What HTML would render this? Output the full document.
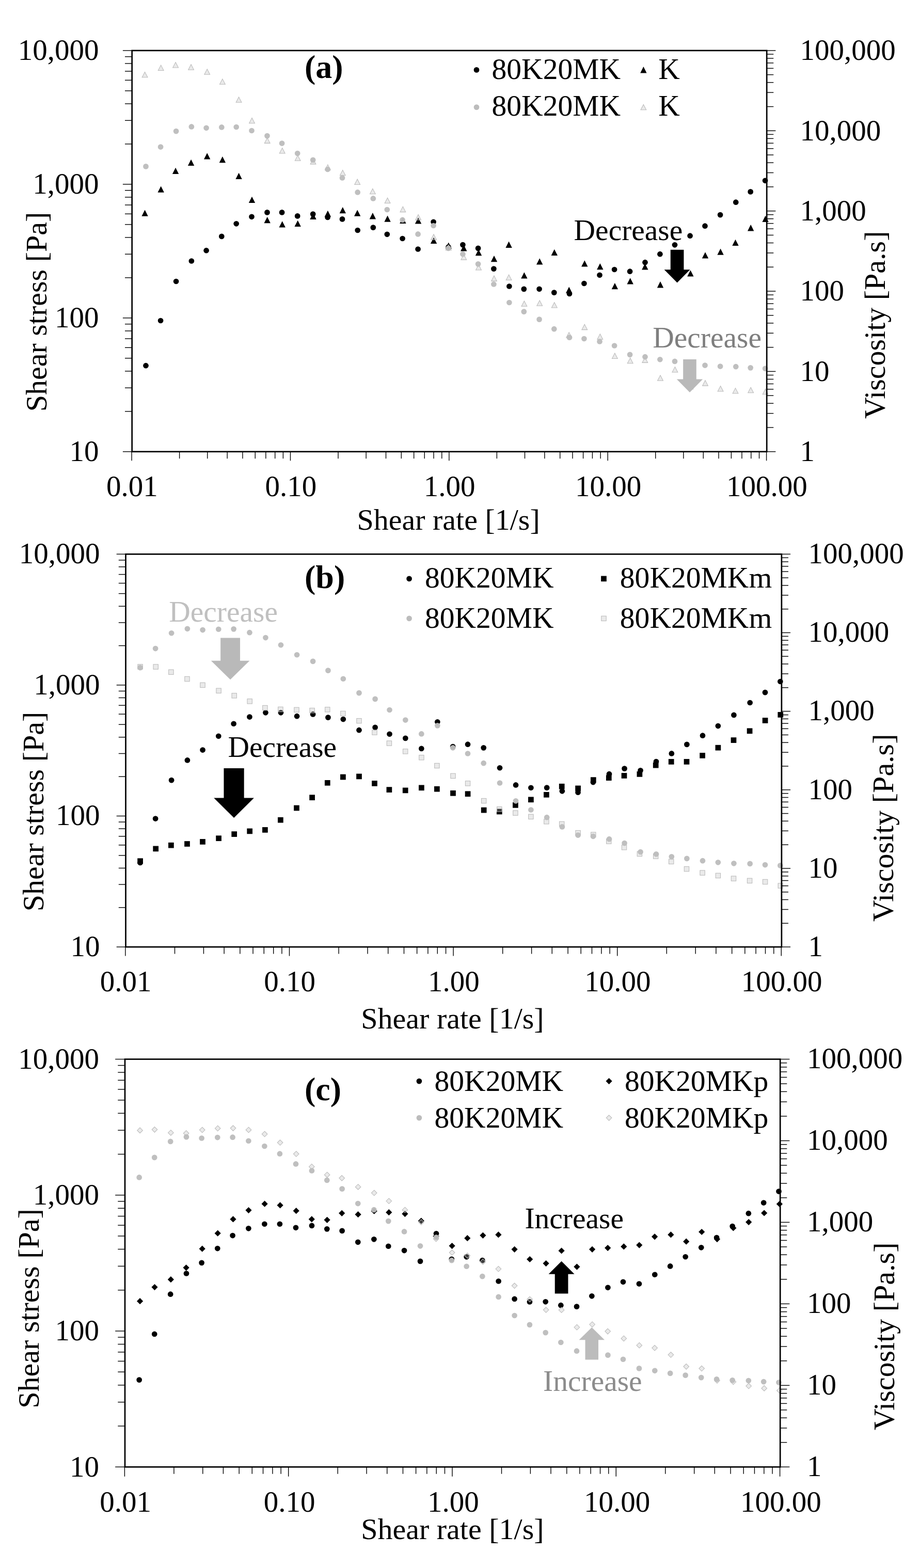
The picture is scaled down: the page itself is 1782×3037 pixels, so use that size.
<!DOCTYPE html>
<html lang="en"><head><meta charset="utf-8"><title>Shear stress and viscosity versus shear rate</title>
<style>html,body{margin:0;padding:0;background:#fff}body{width:1782px;height:3037px;overflow:hidden}svg{display:block}text{font-family:"Liberation Serif","Times New Roman",Times,serif}</style>
</head><body>
<svg width="1782" height="3037" viewBox="0 0 1782 3037" font-family="Liberation Serif, Times New Roman, serif" font-size="57">
<rect width="1782" height="3037" fill="#fff"/>
<g id="chart-a">
<g fill="#000">
<circle cx="282.5" cy="708.2" r="5.35"/>
<circle cx="311.1" cy="621" r="5.35"/>
<circle cx="341.1" cy="545" r="5.35"/>
<circle cx="370.9" cy="505.5" r="5.35"/>
<circle cx="399.6" cy="485.2" r="5.35"/>
<circle cx="429.3" cy="457.9" r="5.35"/>
<circle cx="457.7" cy="433.3" r="5.35"/>
<circle cx="487.5" cy="419.8" r="5.35"/>
<circle cx="517.5" cy="411.4" r="5.35"/>
<circle cx="546.1" cy="411.4" r="5.35"/>
<circle cx="576.2" cy="418.4" r="5.35"/>
<circle cx="606.2" cy="414.6" r="5.35"/>
<circle cx="634.6" cy="420.9" r="5.35"/>
<circle cx="663" cy="424.4" r="5.35"/>
<circle cx="692.7" cy="446" r="5.35"/>
<circle cx="722.8" cy="440.6" r="5.35"/>
<circle cx="749.8" cy="453.8" r="5.35"/>
<circle cx="779.6" cy="462" r="5.35"/>
<circle cx="809.6" cy="482.5" r="5.35"/>
<circle cx="839.6" cy="429.8" r="5.35"/>
<circle cx="868.5" cy="478.6" r="5.35"/>
<circle cx="896.4" cy="474.1" r="5.35"/>
<circle cx="926.1" cy="480.9" r="5.35"/>
<circle cx="956.4" cy="520.6" r="5.35"/>
<circle cx="986.4" cy="554.5" r="5.35"/>
<circle cx="1014.8" cy="559.9" r="5.35"/>
<circle cx="1044.6" cy="559.8" r="5.35"/>
<circle cx="1073.3" cy="566.6" r="5.35"/>
<circle cx="1103" cy="569" r="5.35"/>
<circle cx="1131.4" cy="549" r="5.35"/>
<circle cx="1161.5" cy="532.8" r="5.35"/>
<circle cx="1190.1" cy="522" r="5.35"/>
<circle cx="1220.1" cy="525.7" r="5.35"/>
<circle cx="1249.5" cy="508.2" r="5.35"/>
<circle cx="1278.4" cy="492.2" r="5.35"/>
<circle cx="1307" cy="474.3" r="5.35"/>
<circle cx="1336.6" cy="456.7" r="5.35"/>
<circle cx="1365.5" cy="437.7" r="5.35"/>
<circle cx="1395.1" cy="416.1" r="5.35"/>
<circle cx="1425.3" cy="391.7" r="5.35"/>
<circle cx="1453.7" cy="371.4" r="5.35"/>
<circle cx="1482.1" cy="349.8" r="5.35"/>
</g>
<g fill="#000">
<polygon points="280.6,406.4 286.8,418.7 274.4,418.7"/>
<polygon points="311.7,360.5 317.9,372.8 305.5,372.8"/>
<polygon points="340.1,324.7 346.3,337 333.9,337"/>
<polygon points="370.1,308.7 376.3,321 363.9,321"/>
<polygon points="401.2,296.3 407.4,308.6 395,308.6"/>
<polygon points="430.9,303 437.1,315.3 424.7,315.3"/>
<polygon points="462.6,334.7 468.8,347 456.4,347"/>
<polygon points="488,380.7 494.2,393 481.8,393"/>
<polygon points="517.7,420 523.9,432.3 511.5,432.3"/>
<polygon points="546.7,428.3 552.9,440.6 540.5,440.6"/>
<polygon points="576.7,426.7 582.9,439 570.5,439"/>
<polygon points="606.5,412.7 612.7,425 600.3,425"/>
<polygon points="634.9,407.8 641.1,420.1 628.7,420.1"/>
<polygon points="663.8,401 670,413.3 657.6,413.3"/>
<polygon points="692.2,406.4 698.4,418.7 686,418.7"/>
<polygon points="721.9,412.1 728.1,424.4 715.7,424.4"/>
<polygon points="750.6,417.5 756.8,429.8 744.4,429.8"/>
<polygon points="780.4,420.8 786.6,433.1 774.2,433.1"/>
<polygon points="810.1,421.3 816.3,433.6 803.9,433.6"/>
<polygon points="840.1,459.7 846.3,472 833.9,472"/>
<polygon points="868.8,469.5 875,481.8 862.6,481.8"/>
<polygon points="898.3,474.1 904.5,486.4 892.1,486.4"/>
<polygon points="927,483 933.2,495.3 920.8,495.3"/>
<polygon points="957,494.9 963.2,507.2 950.8,507.2"/>
<polygon points="985.6,467.6 991.8,479.9 979.4,479.9"/>
<polygon points="1015.4,527.3 1021.6,539.6 1009.2,539.6"/>
<polygon points="1045.2,500.3 1051.4,512.6 1039,512.6"/>
<polygon points="1073.8,482.7 1080,495 1067.6,495"/>
<polygon points="1102.2,555.4 1108.4,567.7 1096,567.7"/>
<polygon points="1132.3,504.3 1138.5,516.6 1126.1,516.6"/>
<polygon points="1162.3,510 1168.5,522.3 1156.1,522.3"/>
<polygon points="1190.9,547.9 1197.1,560.2 1184.7,560.2"/>
<polygon points="1220.7,538.3 1226.9,550.6 1214.5,550.6"/>
<polygon points="1249.3,510.3 1255.5,522.6 1243.1,522.6"/>
<polygon points="1279,545.1 1285.2,557.4 1272.8,557.4"/>
<polygon points="1307.4,494.1 1313.6,506.4 1301.2,506.4"/>
<polygon points="1337.4,523.3 1343.6,535.6 1331.2,535.6"/>
<polygon points="1366,488.2 1372.2,500.5 1359.8,500.5"/>
<polygon points="1395.6,481.4 1401.8,493.7 1389.4,493.7"/>
<polygon points="1424.5,463.8 1430.7,476.1 1418.3,476.1"/>
<polygon points="1454.2,435.1 1460.4,447.4 1448,447.4"/>
<polygon points="1482.6,417.8 1488.8,430.1 1476.4,430.1"/>
</g>
<g fill="#bdbdbd" fill-opacity="0.32" stroke="#bababa" stroke-width="1.05">
<polygon points="280.6,139.44 286,149.84 275.2,149.84"/>
<polygon points="311.7,126.12 317.1,136.52 306.3,136.52"/>
<polygon points="340.1,120.6 345.5,131 334.7,131"/>
<polygon points="370.1,124.76 375.5,135.16 364.7,135.16"/>
<polygon points="401.2,133.84 406.6,144.24 395.8,144.24"/>
<polygon points="430.9,152.88 436.3,163.28 425.5,163.28"/>
<polygon points="462.6,187.92 468,198.32 457.2,198.32"/>
<polygon points="488,228.36 493.4,238.76 482.6,238.76"/>
<polygon points="517.7,266.95 523.1,277.35 512.3,277.35"/>
<polygon points="546.7,286.59 552.1,296.99 541.3,296.99"/>
<polygon points="576.7,300.8 582.1,311.2 571.3,311.2"/>
<polygon points="606.5,307.46 611.9,317.86 601.1,317.86"/>
<polygon points="634.9,318.88 640.3,329.28 629.5,329.28"/>
<polygon points="663.8,329.41 669.2,339.81 658.4,339.81"/>
<polygon points="692.2,347.01 697.6,357.41 686.8,357.41"/>
<polygon points="721.9,365.44 727.3,375.84 716.5,375.84"/>
<polygon points="750.6,383.19 756,393.59 745.2,393.59"/>
<polygon points="780.4,400.23 785.8,410.63 775,410.63"/>
<polygon points="810.1,415.54 815.5,425.94 804.7,425.94"/>
<polygon points="840.1,453.75 845.5,464.15 834.7,464.15"/>
<polygon points="868.8,474.14 874.2,484.54 863.4,484.54"/>
<polygon points="898.3,492.71 903.7,503.11 892.9,503.11"/>
<polygon points="927,512.56 932.4,522.96 921.6,522.96"/>
<polygon points="957,533.96 962.4,544.36 951.6,544.36"/>
<polygon points="985.6,532.04 991,542.44 980.2,542.44"/>
<polygon points="1015.4,582.92 1020.8,593.32 1010,593.32"/>
<polygon points="1045.2,581.79 1050.6,592.19 1039.8,592.19"/>
<polygon points="1073.8,585.69 1079.2,596.09 1068.4,596.09"/>
<polygon points="1102.2,643.66 1107.6,654.06 1096.8,654.06"/>
<polygon points="1132.3,628.22 1137.7,638.62 1126.9,638.62"/>
<polygon points="1162.3,646.8 1167.7,657.2 1156.9,657.2"/>
<polygon points="1190.9,684 1196.3,694.4 1185.5,694.4"/>
<polygon points="1220.7,693.31 1226.1,703.71 1215.3,703.71"/>
<polygon points="1249.3,691.96 1254.7,702.36 1243.9,702.36"/>
<polygon points="1279,726.86 1284.4,737.26 1273.6,737.26"/>
<polygon points="1307.4,710.61 1312.8,721.01 1302,721.01"/>
<polygon points="1337.4,743.3 1342.8,753.7 1332,753.7"/>
<polygon points="1366,736.7 1371.4,747.1 1360.6,747.1"/>
<polygon points="1395.6,747.58 1401,757.98 1390.2,757.98"/>
<polygon points="1424.5,751.63 1429.9,762.03 1419.1,762.03"/>
<polygon points="1454.2,750.32 1459.6,760.72 1448.8,760.72"/>
<polygon points="1482.6,753.4 1488,763.8 1477.2,763.8"/>
</g>
<g fill="#bcbcbc" fill-opacity="0.96">
<circle cx="282.5" cy="322.4" r="5.35"/>
<circle cx="311.1" cy="284.54" r="5.35"/>
<circle cx="341.1" cy="254.1" r="5.35"/>
<circle cx="370.9" cy="245.47" r="5.35"/>
<circle cx="399.6" cy="247.79" r="5.35"/>
<circle cx="429.3" cy="246.43" r="5.35"/>
<circle cx="457.7" cy="246.02" r="5.35"/>
<circle cx="487.5" cy="252.99" r="5.35"/>
<circle cx="517.5" cy="263.11" r="5.35"/>
<circle cx="546.1" cy="277.57" r="5.35"/>
<circle cx="576.2" cy="296.99" r="5.35"/>
<circle cx="606.2" cy="309.87" r="5.35"/>
<circle cx="634.6" cy="328.01" r="5.35"/>
<circle cx="663" cy="344.46" r="5.35"/>
<circle cx="692.7" cy="372.44" r="5.35"/>
<circle cx="722.8" cy="384.41" r="5.35"/>
<circle cx="749.8" cy="405.98" r="5.35"/>
<circle cx="779.6" cy="425.97" r="5.35"/>
<circle cx="809.6" cy="453.43" r="5.35"/>
<circle cx="839.6" cy="436.98" r="5.35"/>
<circle cx="868.5" cy="480.87" r="5.35"/>
<circle cx="896.4" cy="492.27" r="5.35"/>
<circle cx="926.1" cy="511.36" r="5.35"/>
<circle cx="956.4" cy="550.5" r="5.35"/>
<circle cx="986.4" cy="586.01" r="5.35"/>
<circle cx="1014.8" cy="603.6" r="5.35"/>
<circle cx="1044.6" cy="618.61" r="5.35"/>
<circle cx="1073.3" cy="637.19" r="5.35"/>
<circle cx="1103" cy="653.65" r="5.35"/>
<circle cx="1131.4" cy="656" r="5.35"/>
<circle cx="1161.5" cy="661.5" r="5.35"/>
<circle cx="1190.1" cy="669.48" r="5.35"/>
<circle cx="1220.1" cy="686.86" r="5.35"/>
<circle cx="1249.5" cy="691.22" r="5.35"/>
<circle cx="1278.4" cy="696.23" r="5.35"/>
<circle cx="1307" cy="699.95" r="5.35"/>
<circle cx="1336.6" cy="704.35" r="5.35"/>
<circle cx="1365.5" cy="707.56" r="5.35"/>
<circle cx="1395.1" cy="709.57" r="5.35"/>
<circle cx="1425.3" cy="710.19" r="5.35"/>
<circle cx="1453.7" cy="712.37" r="5.35"/>
<circle cx="1482.1" cy="713.76" r="5.35"/>
</g>
<g stroke="#000" stroke-width="1.4" fill="none">
<line x1="237.9" y1="97.9" x2="255.4" y2="97.9"/>
<line x1="242" y1="278.91" x2="255.4" y2="278.91"/>
<line x1="242" y1="233.31" x2="255.4" y2="233.31"/>
<line x1="242" y1="200.95" x2="255.4" y2="200.95"/>
<line x1="242" y1="175.86" x2="255.4" y2="175.86"/>
<line x1="242" y1="155.35" x2="255.4" y2="155.35"/>
<line x1="242" y1="138.01" x2="255.4" y2="138.01"/>
<line x1="242" y1="123" x2="255.4" y2="123"/>
<line x1="242" y1="109.75" x2="255.4" y2="109.75"/>
<line x1="237.9" y1="356.87" x2="255.4" y2="356.87"/>
<line x1="242" y1="537.88" x2="255.4" y2="537.88"/>
<line x1="242" y1="492.27" x2="255.4" y2="492.27"/>
<line x1="242" y1="459.92" x2="255.4" y2="459.92"/>
<line x1="242" y1="434.82" x2="255.4" y2="434.82"/>
<line x1="242" y1="414.32" x2="255.4" y2="414.32"/>
<line x1="242" y1="396.98" x2="255.4" y2="396.98"/>
<line x1="242" y1="381.96" x2="255.4" y2="381.96"/>
<line x1="242" y1="368.72" x2="255.4" y2="368.72"/>
<line x1="237.9" y1="615.83" x2="255.4" y2="615.83"/>
<line x1="242" y1="796.84" x2="255.4" y2="796.84"/>
<line x1="242" y1="751.24" x2="255.4" y2="751.24"/>
<line x1="242" y1="718.89" x2="255.4" y2="718.89"/>
<line x1="242" y1="693.79" x2="255.4" y2="693.79"/>
<line x1="242" y1="673.28" x2="255.4" y2="673.28"/>
<line x1="242" y1="655.95" x2="255.4" y2="655.95"/>
<line x1="242" y1="640.93" x2="255.4" y2="640.93"/>
<line x1="242" y1="627.68" x2="255.4" y2="627.68"/>
<line x1="237.9" y1="874.8" x2="255.4" y2="874.8"/>
<line x1="1484.9" y1="97.9" x2="1502.4" y2="97.9"/>
<line x1="1484.9" y1="206.51" x2="1498.3" y2="206.51"/>
<line x1="1484.9" y1="179.14" x2="1498.3" y2="179.14"/>
<line x1="1484.9" y1="159.73" x2="1498.3" y2="159.73"/>
<line x1="1484.9" y1="144.67" x2="1498.3" y2="144.67"/>
<line x1="1484.9" y1="132.37" x2="1498.3" y2="132.37"/>
<line x1="1484.9" y1="121.97" x2="1498.3" y2="121.97"/>
<line x1="1484.9" y1="112.96" x2="1498.3" y2="112.96"/>
<line x1="1484.9" y1="105.01" x2="1498.3" y2="105.01"/>
<line x1="1484.9" y1="253.28" x2="1502.4" y2="253.28"/>
<line x1="1484.9" y1="361.89" x2="1498.3" y2="361.89"/>
<line x1="1484.9" y1="334.52" x2="1498.3" y2="334.52"/>
<line x1="1484.9" y1="315.11" x2="1498.3" y2="315.11"/>
<line x1="1484.9" y1="300.05" x2="1498.3" y2="300.05"/>
<line x1="1484.9" y1="287.75" x2="1498.3" y2="287.75"/>
<line x1="1484.9" y1="277.35" x2="1498.3" y2="277.35"/>
<line x1="1484.9" y1="268.34" x2="1498.3" y2="268.34"/>
<line x1="1484.9" y1="260.39" x2="1498.3" y2="260.39"/>
<line x1="1484.9" y1="408.66" x2="1502.4" y2="408.66"/>
<line x1="1484.9" y1="517.27" x2="1498.3" y2="517.27"/>
<line x1="1484.9" y1="489.9" x2="1498.3" y2="489.9"/>
<line x1="1484.9" y1="470.49" x2="1498.3" y2="470.49"/>
<line x1="1484.9" y1="455.43" x2="1498.3" y2="455.43"/>
<line x1="1484.9" y1="443.13" x2="1498.3" y2="443.13"/>
<line x1="1484.9" y1="432.73" x2="1498.3" y2="432.73"/>
<line x1="1484.9" y1="423.72" x2="1498.3" y2="423.72"/>
<line x1="1484.9" y1="415.77" x2="1498.3" y2="415.77"/>
<line x1="1484.9" y1="564.04" x2="1502.4" y2="564.04"/>
<line x1="1484.9" y1="672.65" x2="1498.3" y2="672.65"/>
<line x1="1484.9" y1="645.28" x2="1498.3" y2="645.28"/>
<line x1="1484.9" y1="625.87" x2="1498.3" y2="625.87"/>
<line x1="1484.9" y1="610.81" x2="1498.3" y2="610.81"/>
<line x1="1484.9" y1="598.51" x2="1498.3" y2="598.51"/>
<line x1="1484.9" y1="588.11" x2="1498.3" y2="588.11"/>
<line x1="1484.9" y1="579.1" x2="1498.3" y2="579.1"/>
<line x1="1484.9" y1="571.15" x2="1498.3" y2="571.15"/>
<line x1="1484.9" y1="719.42" x2="1502.4" y2="719.42"/>
<line x1="1484.9" y1="828.03" x2="1498.3" y2="828.03"/>
<line x1="1484.9" y1="800.66" x2="1498.3" y2="800.66"/>
<line x1="1484.9" y1="781.25" x2="1498.3" y2="781.25"/>
<line x1="1484.9" y1="766.19" x2="1498.3" y2="766.19"/>
<line x1="1484.9" y1="753.89" x2="1498.3" y2="753.89"/>
<line x1="1484.9" y1="743.49" x2="1498.3" y2="743.49"/>
<line x1="1484.9" y1="734.48" x2="1498.3" y2="734.48"/>
<line x1="1484.9" y1="726.53" x2="1498.3" y2="726.53"/>
<line x1="1484.9" y1="874.8" x2="1502.4" y2="874.8"/>
<line x1="255.1" y1="874.8" x2="255.1" y2="892.3"/>
<line x1="347.63" y1="874.8" x2="347.63" y2="888.2"/>
<line x1="401.76" y1="874.8" x2="401.76" y2="888.2"/>
<line x1="440.16" y1="874.8" x2="440.16" y2="888.2"/>
<line x1="469.95" y1="874.8" x2="469.95" y2="888.2"/>
<line x1="494.28" y1="874.8" x2="494.28" y2="888.2"/>
<line x1="514.86" y1="874.8" x2="514.86" y2="888.2"/>
<line x1="532.69" y1="874.8" x2="532.69" y2="888.2"/>
<line x1="548.41" y1="874.8" x2="548.41" y2="888.2"/>
<line x1="562.48" y1="874.8" x2="562.48" y2="892.3"/>
<line x1="655" y1="874.8" x2="655" y2="888.2"/>
<line x1="709.13" y1="874.8" x2="709.13" y2="888.2"/>
<line x1="747.53" y1="874.8" x2="747.53" y2="888.2"/>
<line x1="777.32" y1="874.8" x2="777.32" y2="888.2"/>
<line x1="801.66" y1="874.8" x2="801.66" y2="888.2"/>
<line x1="822.24" y1="874.8" x2="822.24" y2="888.2"/>
<line x1="840.06" y1="874.8" x2="840.06" y2="888.2"/>
<line x1="855.79" y1="874.8" x2="855.79" y2="888.2"/>
<line x1="869.85" y1="874.8" x2="869.85" y2="892.3"/>
<line x1="962.38" y1="874.8" x2="962.38" y2="888.2"/>
<line x1="1016.51" y1="874.8" x2="1016.51" y2="888.2"/>
<line x1="1054.91" y1="874.8" x2="1054.91" y2="888.2"/>
<line x1="1084.7" y1="874.8" x2="1084.7" y2="888.2"/>
<line x1="1109.03" y1="874.8" x2="1109.03" y2="888.2"/>
<line x1="1129.61" y1="874.8" x2="1129.61" y2="888.2"/>
<line x1="1147.44" y1="874.8" x2="1147.44" y2="888.2"/>
<line x1="1163.16" y1="874.8" x2="1163.16" y2="888.2"/>
<line x1="1177.22" y1="874.8" x2="1177.22" y2="892.3"/>
<line x1="1269.75" y1="874.8" x2="1269.75" y2="888.2"/>
<line x1="1323.88" y1="874.8" x2="1323.88" y2="888.2"/>
<line x1="1362.28" y1="874.8" x2="1362.28" y2="888.2"/>
<line x1="1392.07" y1="874.8" x2="1392.07" y2="888.2"/>
<line x1="1416.41" y1="874.8" x2="1416.41" y2="888.2"/>
<line x1="1436.99" y1="874.8" x2="1436.99" y2="888.2"/>
<line x1="1454.81" y1="874.8" x2="1454.81" y2="888.2"/>
<line x1="1470.54" y1="874.8" x2="1470.54" y2="888.2"/>
<line x1="1484.6" y1="874.8" x2="1484.6" y2="892.3"/>
</g>
<rect x="255.7" y="97.9" width="1229.5" height="776.9" fill="none" stroke="#000" stroke-width="2.7"/>
<text x="191.5" y="116.2" text-anchor="end">10,000</text>
<text x="191.5" y="375.17" text-anchor="end">1,000</text>
<text x="191.5" y="634.13" text-anchor="end">100</text>
<text x="191.5" y="893.1" text-anchor="end">10</text>
<text x="1549.5" y="116.2">100,000</text>
<text x="1549.5" y="271.58">10,000</text>
<text x="1549.5" y="426.96">1,000</text>
<text x="1549.5" y="582.34">100</text>
<text x="1549.5" y="737.72">10</text>
<text x="1549.5" y="893.1">1</text>
<text x="255.9" y="961.4" text-anchor="middle">0.01</text>
<text x="563.27" y="961.4" text-anchor="middle">0.10</text>
<text x="870.65" y="961.4" text-anchor="middle">1.00</text>
<text x="1178.03" y="961.4" text-anchor="middle">10.00</text>
<text x="1485.4" y="961.4" text-anchor="middle">100.00</text>
<text x="868.6" y="1025.5" text-anchor="middle" font-size="58">Shear rate [1/s]</text>
<text x="89.6" y="604" text-anchor="middle" font-size="58" transform="rotate(-90 89.6 604)">Shear stress [Pa]</text>
<text x="1714.2" y="629.4" text-anchor="middle" font-size="58" transform="rotate(-90 1714.2 629.4)">Viscosity [Pa.s]</text>
<polygon fill="#000" points="1298.75,483.8 1324.45,483.8 1324.45,522.2 1336.6,522.2 1311.6,547.4 1286.6,522.2 1298.75,522.2"/>
<polygon fill="#b9b9b9" points="1323.2,696 1348.8,696 1348.8,734.6 1361.2,734.6 1336,760 1310.8,734.6 1323.2,734.6"/>
<text x="1111.6" y="464.9" font-size="57.5">Decrease</text>
<text x="1264.3" y="673.3" fill="#7f7f7f" font-size="57.5">Decrease</text>
<text x="590" y="150.9" font-size="64" font-weight="bold">(a)</text>
<g fill="#000"><circle cx="923" cy="135.4" r="5.35"/></g>
<text x="952.5" y="152.7" font-size="57.6">80K20MK</text>
<g fill="#000"><polygon points="1246.4,129.1 1252.6,141.4 1240.2,141.4"/></g>
<text x="1275.2" y="152.7" font-size="57.6">K</text>
<g fill="#bcbcbc"><circle cx="923" cy="207.6" r="5.35"/></g>
<text x="952.5" y="224.4" font-size="57.6">80K20MK</text>
<g fill="#bdbdbd" fill-opacity="0.32" stroke="#bababa" stroke-width="1.05"><polygon points="1246.4,202.4 1251.8,212.8 1241,212.8"/></g>
<text x="1275.2" y="224.4" font-size="57.6">K</text>
</g>
<g id="chart-b">
<g fill="#000">
<circle cx="271.56" cy="1670.95" r="5.35"/>
<circle cx="301.12" cy="1585.56" r="5.35"/>
<circle cx="332.12" cy="1511.13" r="5.35"/>
<circle cx="362.92" cy="1472.45" r="5.35"/>
<circle cx="392.58" cy="1452.57" r="5.35"/>
<circle cx="423.28" cy="1425.84" r="5.35"/>
<circle cx="452.63" cy="1401.75" r="5.35"/>
<circle cx="483.43" cy="1388.53" r="5.35"/>
<circle cx="514.43" cy="1380.3" r="5.35"/>
<circle cx="543.99" cy="1380.3" r="5.35"/>
<circle cx="575.1" cy="1387.16" r="5.35"/>
<circle cx="606.11" cy="1383.44" r="5.35"/>
<circle cx="635.46" cy="1389.61" r="5.35"/>
<circle cx="664.81" cy="1393.03" r="5.35"/>
<circle cx="695.5" cy="1414.19" r="5.35"/>
<circle cx="726.61" cy="1408.9" r="5.35"/>
<circle cx="754.52" cy="1421.82" r="5.35"/>
<circle cx="785.32" cy="1429.85" r="5.35"/>
<circle cx="816.32" cy="1449.93" r="5.35"/>
<circle cx="847.33" cy="1398.32" r="5.35"/>
<circle cx="877.19" cy="1446.11" r="5.35"/>
<circle cx="906.03" cy="1441.7" r="5.35"/>
<circle cx="936.72" cy="1448.36" r="5.35"/>
<circle cx="968.04" cy="1487.24" r="5.35"/>
<circle cx="999.05" cy="1520.44" r="5.35"/>
<circle cx="1028.4" cy="1525.73" r="5.35"/>
<circle cx="1059.2" cy="1525.63" r="5.35"/>
<circle cx="1088.86" cy="1532.29" r="5.35"/>
<circle cx="1119.55" cy="1534.64" r="5.35"/>
<circle cx="1148.9" cy="1515.05" r="5.35"/>
<circle cx="1180.01" cy="1499.19" r="5.35"/>
<circle cx="1209.57" cy="1488.61" r="5.35"/>
<circle cx="1240.58" cy="1492.23" r="5.35"/>
<circle cx="1270.96" cy="1475.1" r="5.35"/>
<circle cx="1300.83" cy="1459.43" r="5.35"/>
<circle cx="1330.39" cy="1441.9" r="5.35"/>
<circle cx="1360.98" cy="1424.66" r="5.35"/>
<circle cx="1390.85" cy="1406.06" r="5.35"/>
<circle cx="1421.44" cy="1384.91" r="5.35"/>
<circle cx="1452.65" cy="1361.01" r="5.35"/>
<circle cx="1482" cy="1341.13" r="5.35"/>
<circle cx="1511.36" cy="1319.98" r="5.35"/>
</g>
<g fill="#000">
<rect x="266.25" y="1662.35" width="10.7" height="10.7"/>
<rect x="296.35" y="1638.55" width="10.7" height="10.7"/>
<rect x="326.05" y="1631.85" width="10.7" height="10.7"/>
<rect x="357.15" y="1629.15" width="10.7" height="10.7"/>
<rect x="387.15" y="1625.05" width="10.7" height="10.7"/>
<rect x="418.25" y="1618.35" width="10.7" height="10.7"/>
<rect x="448.35" y="1610.25" width="10.7" height="10.7"/>
<rect x="478.35" y="1604.55" width="10.7" height="10.7"/>
<rect x="508.05" y="1602.05" width="10.7" height="10.7"/>
<rect x="538.05" y="1582.85" width="10.7" height="10.7"/>
<rect x="569.15" y="1559.65" width="10.7" height="10.7"/>
<rect x="599.25" y="1539.35" width="10.7" height="10.7"/>
<rect x="628.95" y="1510.95" width="10.7" height="10.7"/>
<rect x="659.05" y="1499.65" width="10.7" height="10.7"/>
<rect x="690.15" y="1498.55" width="10.7" height="10.7"/>
<rect x="720.15" y="1512.05" width="10.7" height="10.7"/>
<rect x="748.55" y="1524.25" width="10.7" height="10.7"/>
<rect x="779.85" y="1525.55" width="10.7" height="10.7"/>
<rect x="811.05" y="1520.45" width="10.7" height="10.7"/>
<rect x="841.05" y="1522.85" width="10.7" height="10.7"/>
<rect x="872.15" y="1530.95" width="10.7" height="10.7"/>
<rect x="900.75" y="1532.35" width="10.7" height="10.7"/>
<rect x="931.85" y="1563.75" width="10.7" height="10.7"/>
<rect x="961.95" y="1566.65" width="10.7" height="10.7"/>
<rect x="993.05" y="1554.05" width="10.7" height="10.7"/>
<rect x="1023.05" y="1543.45" width="10.7" height="10.7"/>
<rect x="1053.05" y="1533.95" width="10.7" height="10.7"/>
<rect x="1082.85" y="1517.85" width="10.7" height="10.7"/>
<rect x="1114.25" y="1521.55" width="10.7" height="10.7"/>
<rect x="1143.95" y="1505.25" width="10.7" height="10.7"/>
<rect x="1173.95" y="1501.25" width="10.7" height="10.7"/>
<rect x="1203.65" y="1497.05" width="10.7" height="10.7"/>
<rect x="1233.55" y="1494.05" width="10.7" height="10.7"/>
<rect x="1264.85" y="1476.85" width="10.7" height="10.7"/>
<rect x="1294.85" y="1470.05" width="10.7" height="10.7"/>
<rect x="1324.65" y="1470.05" width="10.7" height="10.7"/>
<rect x="1355.25" y="1458.05" width="10.7" height="10.7"/>
<rect x="1385.55" y="1442.85" width="10.7" height="10.7"/>
<rect x="1415.65" y="1428.25" width="10.7" height="10.7"/>
<rect x="1446.75" y="1410.45" width="10.7" height="10.7"/>
<rect x="1476.75" y="1390.15" width="10.7" height="10.7"/>
<rect x="1506.45" y="1379.05" width="10.7" height="10.7"/>
</g>
<g fill="#bdbdbd" fill-opacity="0.32" stroke="#bababa" stroke-width="1.05">
<rect x="266.9" y="1286.69" width="9.4" height="9.4"/>
<rect x="297" y="1286.83" width="9.4" height="9.4"/>
<rect x="326.7" y="1297.04" width="9.4" height="9.4"/>
<rect x="357.8" y="1310.32" width="9.4" height="9.4"/>
<rect x="387.8" y="1322.23" width="9.4" height="9.4"/>
<rect x="418.9" y="1333.11" width="9.4" height="9.4"/>
<rect x="449" y="1342.67" width="9.4" height="9.4"/>
<rect x="479" y="1353.62" width="9.4" height="9.4"/>
<rect x="508.7" y="1366.35" width="9.4" height="9.4"/>
<rect x="538.7" y="1369.2" width="9.4" height="9.4"/>
<rect x="569.8" y="1370.18" width="9.4" height="9.4"/>
<rect x="599.9" y="1371.42" width="9.4" height="9.4"/>
<rect x="629.6" y="1369.61" width="9.4" height="9.4"/>
<rect x="659.7" y="1377.25" width="9.4" height="9.4"/>
<rect x="690.8" y="1391.49" width="9.4" height="9.4"/>
<rect x="720.8" y="1413.97" width="9.4" height="9.4"/>
<rect x="749.2" y="1434.89" width="9.4" height="9.4"/>
<rect x="780.5" y="1450.67" width="9.4" height="9.4"/>
<rect x="811.7" y="1462.56" width="9.4" height="9.4"/>
<rect x="841.7" y="1478.37" width="9.4" height="9.4"/>
<rect x="872.8" y="1498.13" width="9.4" height="9.4"/>
<rect x="901.4" y="1512.67" width="9.4" height="9.4"/>
<rect x="932.5" y="1546.41" width="9.4" height="9.4"/>
<rect x="962.6" y="1562.57" width="9.4" height="9.4"/>
<rect x="993.7" y="1569.91" width="9.4" height="9.4"/>
<rect x="1023.7" y="1577.12" width="9.4" height="9.4"/>
<rect x="1053.7" y="1586.6" width="9.4" height="9.4"/>
<rect x="1083.5" y="1591.21" width="9.4" height="9.4"/>
<rect x="1114.9" y="1608.48" width="9.4" height="9.4"/>
<rect x="1144.6" y="1611.93" width="9.4" height="9.4"/>
<rect x="1174.6" y="1624.9" width="9.4" height="9.4"/>
<rect x="1204.3" y="1636.61" width="9.4" height="9.4"/>
<rect x="1234.2" y="1649.13" width="9.4" height="9.4"/>
<rect x="1265.5" y="1653.81" width="9.4" height="9.4"/>
<rect x="1295.5" y="1664.1" width="9.4" height="9.4"/>
<rect x="1325.3" y="1678.38" width="9.4" height="9.4"/>
<rect x="1355.9" y="1685.84" width="9.4" height="9.4"/>
<rect x="1386.2" y="1691.24" width="9.4" height="9.4"/>
<rect x="1416.3" y="1696.9" width="9.4" height="9.4"/>
<rect x="1447.4" y="1701.12" width="9.4" height="9.4"/>
<rect x="1477.4" y="1703.31" width="9.4" height="9.4"/>
<rect x="1507.1" y="1710.88" width="9.4" height="9.4"/>
</g>
<g fill="#bcbcbc" fill-opacity="0.96">
<circle cx="271.56" cy="1293.15" r="5.35"/>
<circle cx="301.12" cy="1256.07" r="5.35"/>
<circle cx="332.12" cy="1226.26" r="5.35"/>
<circle cx="362.92" cy="1217.81" r="5.35"/>
<circle cx="392.58" cy="1220.09" r="5.35"/>
<circle cx="423.28" cy="1218.75" r="5.35"/>
<circle cx="452.63" cy="1218.35" r="5.35"/>
<circle cx="483.43" cy="1225.17" r="5.35"/>
<circle cx="514.43" cy="1235.09" r="5.35"/>
<circle cx="543.99" cy="1249.25" r="5.35"/>
<circle cx="575.1" cy="1268.26" r="5.35"/>
<circle cx="606.11" cy="1280.88" r="5.35"/>
<circle cx="635.46" cy="1298.64" r="5.35"/>
<circle cx="664.81" cy="1314.75" r="5.35"/>
<circle cx="695.5" cy="1342.15" r="5.35"/>
<circle cx="726.61" cy="1353.88" r="5.35"/>
<circle cx="754.52" cy="1375" r="5.35"/>
<circle cx="785.32" cy="1394.57" r="5.35"/>
<circle cx="816.32" cy="1421.46" r="5.35"/>
<circle cx="847.33" cy="1405.35" r="5.35"/>
<circle cx="877.19" cy="1448.33" r="5.35"/>
<circle cx="906.03" cy="1459.5" r="5.35"/>
<circle cx="936.72" cy="1478.19" r="5.35"/>
<circle cx="968.04" cy="1516.52" r="5.35"/>
<circle cx="999.05" cy="1551.29" r="5.35"/>
<circle cx="1028.4" cy="1568.52" r="5.35"/>
<circle cx="1059.2" cy="1583.21" r="5.35"/>
<circle cx="1088.86" cy="1601.42" r="5.35"/>
<circle cx="1119.55" cy="1617.53" r="5.35"/>
<circle cx="1148.9" cy="1619.84" r="5.35"/>
<circle cx="1180.01" cy="1625.22" r="5.35"/>
<circle cx="1209.57" cy="1633.03" r="5.35"/>
<circle cx="1240.58" cy="1650.06" r="5.35"/>
<circle cx="1270.96" cy="1654.33" r="5.35"/>
<circle cx="1300.83" cy="1659.23" r="5.35"/>
<circle cx="1330.39" cy="1662.87" r="5.35"/>
<circle cx="1360.98" cy="1667.19" r="5.35"/>
<circle cx="1390.85" cy="1670.33" r="5.35"/>
<circle cx="1421.44" cy="1672.29" r="5.35"/>
<circle cx="1452.65" cy="1672.9" r="5.35"/>
<circle cx="1482" cy="1675.03" r="5.35"/>
<circle cx="1511.36" cy="1676.4" r="5.35"/>
</g>
<g stroke="#000" stroke-width="1.4" fill="none">
<line x1="225.7" y1="1073.3" x2="243.2" y2="1073.3"/>
<line x1="229.8" y1="1250.56" x2="243.2" y2="1250.56"/>
<line x1="229.8" y1="1205.9" x2="243.2" y2="1205.9"/>
<line x1="229.8" y1="1174.22" x2="243.2" y2="1174.22"/>
<line x1="229.8" y1="1149.64" x2="243.2" y2="1149.64"/>
<line x1="229.8" y1="1129.56" x2="243.2" y2="1129.56"/>
<line x1="229.8" y1="1112.58" x2="243.2" y2="1112.58"/>
<line x1="229.8" y1="1097.88" x2="243.2" y2="1097.88"/>
<line x1="229.8" y1="1084.9" x2="243.2" y2="1084.9"/>
<line x1="225.7" y1="1326.9" x2="243.2" y2="1326.9"/>
<line x1="229.8" y1="1504.16" x2="243.2" y2="1504.16"/>
<line x1="229.8" y1="1459.5" x2="243.2" y2="1459.5"/>
<line x1="229.8" y1="1427.82" x2="243.2" y2="1427.82"/>
<line x1="229.8" y1="1403.24" x2="243.2" y2="1403.24"/>
<line x1="229.8" y1="1383.16" x2="243.2" y2="1383.16"/>
<line x1="229.8" y1="1366.18" x2="243.2" y2="1366.18"/>
<line x1="229.8" y1="1351.48" x2="243.2" y2="1351.48"/>
<line x1="229.8" y1="1338.5" x2="243.2" y2="1338.5"/>
<line x1="225.7" y1="1580.5" x2="243.2" y2="1580.5"/>
<line x1="229.8" y1="1757.76" x2="243.2" y2="1757.76"/>
<line x1="229.8" y1="1713.1" x2="243.2" y2="1713.1"/>
<line x1="229.8" y1="1681.42" x2="243.2" y2="1681.42"/>
<line x1="229.8" y1="1656.84" x2="243.2" y2="1656.84"/>
<line x1="229.8" y1="1636.76" x2="243.2" y2="1636.76"/>
<line x1="229.8" y1="1619.78" x2="243.2" y2="1619.78"/>
<line x1="229.8" y1="1605.08" x2="243.2" y2="1605.08"/>
<line x1="229.8" y1="1592.1" x2="243.2" y2="1592.1"/>
<line x1="225.7" y1="1834.1" x2="243.2" y2="1834.1"/>
<line x1="1513.6" y1="1073.3" x2="1531.1" y2="1073.3"/>
<line x1="1513.6" y1="1179.66" x2="1527" y2="1179.66"/>
<line x1="1513.6" y1="1152.86" x2="1527" y2="1152.86"/>
<line x1="1513.6" y1="1133.85" x2="1527" y2="1133.85"/>
<line x1="1513.6" y1="1119.1" x2="1527" y2="1119.1"/>
<line x1="1513.6" y1="1107.06" x2="1527" y2="1107.06"/>
<line x1="1513.6" y1="1096.87" x2="1527" y2="1096.87"/>
<line x1="1513.6" y1="1088.05" x2="1527" y2="1088.05"/>
<line x1="1513.6" y1="1080.26" x2="1527" y2="1080.26"/>
<line x1="1513.6" y1="1225.46" x2="1531.1" y2="1225.46"/>
<line x1="1513.6" y1="1331.82" x2="1527" y2="1331.82"/>
<line x1="1513.6" y1="1305.02" x2="1527" y2="1305.02"/>
<line x1="1513.6" y1="1286.01" x2="1527" y2="1286.01"/>
<line x1="1513.6" y1="1271.26" x2="1527" y2="1271.26"/>
<line x1="1513.6" y1="1259.22" x2="1527" y2="1259.22"/>
<line x1="1513.6" y1="1249.03" x2="1527" y2="1249.03"/>
<line x1="1513.6" y1="1240.21" x2="1527" y2="1240.21"/>
<line x1="1513.6" y1="1232.42" x2="1527" y2="1232.42"/>
<line x1="1513.6" y1="1377.62" x2="1531.1" y2="1377.62"/>
<line x1="1513.6" y1="1483.98" x2="1527" y2="1483.98"/>
<line x1="1513.6" y1="1457.18" x2="1527" y2="1457.18"/>
<line x1="1513.6" y1="1438.17" x2="1527" y2="1438.17"/>
<line x1="1513.6" y1="1423.42" x2="1527" y2="1423.42"/>
<line x1="1513.6" y1="1411.38" x2="1527" y2="1411.38"/>
<line x1="1513.6" y1="1401.19" x2="1527" y2="1401.19"/>
<line x1="1513.6" y1="1392.37" x2="1527" y2="1392.37"/>
<line x1="1513.6" y1="1384.58" x2="1527" y2="1384.58"/>
<line x1="1513.6" y1="1529.78" x2="1531.1" y2="1529.78"/>
<line x1="1513.6" y1="1636.14" x2="1527" y2="1636.14"/>
<line x1="1513.6" y1="1609.34" x2="1527" y2="1609.34"/>
<line x1="1513.6" y1="1590.33" x2="1527" y2="1590.33"/>
<line x1="1513.6" y1="1575.58" x2="1527" y2="1575.58"/>
<line x1="1513.6" y1="1563.54" x2="1527" y2="1563.54"/>
<line x1="1513.6" y1="1553.35" x2="1527" y2="1553.35"/>
<line x1="1513.6" y1="1544.53" x2="1527" y2="1544.53"/>
<line x1="1513.6" y1="1536.74" x2="1527" y2="1536.74"/>
<line x1="1513.6" y1="1681.94" x2="1531.1" y2="1681.94"/>
<line x1="1513.6" y1="1788.3" x2="1527" y2="1788.3"/>
<line x1="1513.6" y1="1761.5" x2="1527" y2="1761.5"/>
<line x1="1513.6" y1="1742.49" x2="1527" y2="1742.49"/>
<line x1="1513.6" y1="1727.74" x2="1527" y2="1727.74"/>
<line x1="1513.6" y1="1715.7" x2="1527" y2="1715.7"/>
<line x1="1513.6" y1="1705.51" x2="1527" y2="1705.51"/>
<line x1="1513.6" y1="1696.69" x2="1527" y2="1696.69"/>
<line x1="1513.6" y1="1688.9" x2="1527" y2="1688.9"/>
<line x1="1513.6" y1="1834.1" x2="1531.1" y2="1834.1"/>
<line x1="242.9" y1="1834.1" x2="242.9" y2="1851.6"/>
<line x1="338.51" y1="1834.1" x2="338.51" y2="1847.5"/>
<line x1="394.43" y1="1834.1" x2="394.43" y2="1847.5"/>
<line x1="434.11" y1="1834.1" x2="434.11" y2="1847.5"/>
<line x1="464.89" y1="1834.1" x2="464.89" y2="1847.5"/>
<line x1="490.04" y1="1834.1" x2="490.04" y2="1847.5"/>
<line x1="511.3" y1="1834.1" x2="511.3" y2="1847.5"/>
<line x1="529.72" y1="1834.1" x2="529.72" y2="1847.5"/>
<line x1="545.97" y1="1834.1" x2="545.97" y2="1847.5"/>
<line x1="560.5" y1="1834.1" x2="560.5" y2="1851.6"/>
<line x1="656.11" y1="1834.1" x2="656.11" y2="1847.5"/>
<line x1="712.03" y1="1834.1" x2="712.03" y2="1847.5"/>
<line x1="751.71" y1="1834.1" x2="751.71" y2="1847.5"/>
<line x1="782.49" y1="1834.1" x2="782.49" y2="1847.5"/>
<line x1="807.64" y1="1834.1" x2="807.64" y2="1847.5"/>
<line x1="828.9" y1="1834.1" x2="828.9" y2="1847.5"/>
<line x1="847.32" y1="1834.1" x2="847.32" y2="1847.5"/>
<line x1="863.57" y1="1834.1" x2="863.57" y2="1847.5"/>
<line x1="878.1" y1="1834.1" x2="878.1" y2="1851.6"/>
<line x1="973.71" y1="1834.1" x2="973.71" y2="1847.5"/>
<line x1="1029.63" y1="1834.1" x2="1029.63" y2="1847.5"/>
<line x1="1069.31" y1="1834.1" x2="1069.31" y2="1847.5"/>
<line x1="1100.09" y1="1834.1" x2="1100.09" y2="1847.5"/>
<line x1="1125.24" y1="1834.1" x2="1125.24" y2="1847.5"/>
<line x1="1146.5" y1="1834.1" x2="1146.5" y2="1847.5"/>
<line x1="1164.92" y1="1834.1" x2="1164.92" y2="1847.5"/>
<line x1="1181.17" y1="1834.1" x2="1181.17" y2="1847.5"/>
<line x1="1195.7" y1="1834.1" x2="1195.7" y2="1851.6"/>
<line x1="1291.31" y1="1834.1" x2="1291.31" y2="1847.5"/>
<line x1="1347.23" y1="1834.1" x2="1347.23" y2="1847.5"/>
<line x1="1386.91" y1="1834.1" x2="1386.91" y2="1847.5"/>
<line x1="1417.69" y1="1834.1" x2="1417.69" y2="1847.5"/>
<line x1="1442.84" y1="1834.1" x2="1442.84" y2="1847.5"/>
<line x1="1464.1" y1="1834.1" x2="1464.1" y2="1847.5"/>
<line x1="1482.52" y1="1834.1" x2="1482.52" y2="1847.5"/>
<line x1="1498.77" y1="1834.1" x2="1498.77" y2="1847.5"/>
<line x1="1513.3" y1="1834.1" x2="1513.3" y2="1851.6"/>
</g>
<rect x="243.5" y="1073.3" width="1270.4" height="760.8" fill="none" stroke="#000" stroke-width="2.7"/>
<text x="193.5" y="1091.1" text-anchor="end">10,000</text>
<text x="193.5" y="1344.7" text-anchor="end">1,000</text>
<text x="193.5" y="1598.3" text-anchor="end">100</text>
<text x="193.5" y="1851.9" text-anchor="end">10</text>
<text x="1565.5" y="1091.1">100,000</text>
<text x="1565.5" y="1243.26">10,000</text>
<text x="1565.5" y="1395.42">1,000</text>
<text x="1565.5" y="1547.58">100</text>
<text x="1565.5" y="1699.74">10</text>
<text x="1565.5" y="1851.9">1</text>
<text x="243.6" y="1920.2" text-anchor="middle">0.01</text>
<text x="561.2" y="1920.2" text-anchor="middle">0.10</text>
<text x="878.8" y="1920.2" text-anchor="middle">1.00</text>
<text x="1196.4" y="1920.2" text-anchor="middle">10.00</text>
<text x="1514" y="1920.2" text-anchor="middle">100.00</text>
<text x="876.5" y="1992" text-anchor="middle" font-size="58">Shear rate [1/s]</text>
<text x="84.2" y="1572" text-anchor="middle" font-size="58" transform="rotate(-90 84.2 1572)">Shear stress [Pa]</text>
<text x="1730.3" y="1603.4" text-anchor="middle" font-size="58" transform="rotate(-90 1730.3 1603.4)">Viscosity [Pa.s]</text>
<polygon fill="#000" points="433.5,1487.9 472.7,1487.9 472.7,1545.5 491.95,1545.5 453.1,1583.9 414.25,1545.5 433.5,1545.5"/>
<polygon fill="#b9b9b9" points="427.15,1235.4 465.05,1235.4 465.05,1279.7 483.4,1279.7 446.1,1316.3 408.8,1279.7 427.15,1279.7"/>
<text x="441.4" y="1466.3" font-size="57.5">Decrease</text>
<text x="327.3" y="1203.8" fill="#c0c0c0" font-size="57.5">Decrease</text>
<text x="590" y="1139.4" font-size="64" font-weight="bold">(b)</text>
<g fill="#000"><circle cx="792.6" cy="1120.9" r="5.35"/></g>
<text x="822.9" y="1138.4" font-size="57.6">80K20MK</text>
<g fill="#000"><rect x="1164.15" y="1115.55" width="10.7" height="10.7"/></g>
<text x="1200.8" y="1138.4" font-size="57.6">80K20MKm</text>
<g fill="#bcbcbc"><circle cx="792.6" cy="1197.9" r="5.35"/></g>
<text x="822.9" y="1216.2" font-size="57.6">80K20MK</text>
<g fill="#bdbdbd" fill-opacity="0.32" stroke="#bababa" stroke-width="1.05"><rect x="1164.8" y="1193.2" width="9.4" height="9.4"/></g>
<text x="1200.8" y="1216.2" font-size="57.6">80K20MKm</text>
</g>
<g id="chart-c">
<g fill="#000">
<circle cx="269.69" cy="2672.62" r="5.35"/>
<circle cx="299.22" cy="2583.95" r="5.35"/>
<circle cx="330.2" cy="2506.68" r="5.35"/>
<circle cx="360.98" cy="2466.5" r="5.35"/>
<circle cx="390.61" cy="2445.85" r="5.35"/>
<circle cx="421.29" cy="2418.08" r="5.35"/>
<circle cx="450.61" cy="2393.05" r="5.35"/>
<circle cx="481.39" cy="2379.31" r="5.35"/>
<circle cx="512.37" cy="2370.76" r="5.35"/>
<circle cx="541.9" cy="2370.74" r="5.35"/>
<circle cx="572.99" cy="2377.84" r="5.35"/>
<circle cx="603.97" cy="2373.96" r="5.35"/>
<circle cx="633.3" cy="2380.35" r="5.35"/>
<circle cx="662.63" cy="2383.89" r="5.35"/>
<circle cx="693.3" cy="2405.83" r="5.35"/>
<circle cx="724.38" cy="2400.32" r="5.35"/>
<circle cx="752.27" cy="2413.73" r="5.35"/>
<circle cx="783.04" cy="2422.05" r="5.35"/>
<circle cx="814.02" cy="2442.87" r="5.35"/>
<circle cx="845" cy="2389.28" r="5.35"/>
<circle cx="874.85" cy="2438.87" r="5.35"/>
<circle cx="903.66" cy="2434.28" r="5.35"/>
<circle cx="934.33" cy="2441.18" r="5.35"/>
<circle cx="965.62" cy="2481.52" r="5.35"/>
<circle cx="996.6" cy="2515.97" r="5.35"/>
<circle cx="1025.93" cy="2521.44" r="5.35"/>
<circle cx="1056.7" cy="2521.32" r="5.35"/>
<circle cx="1086.34" cy="2528.22" r="5.35"/>
<circle cx="1117.01" cy="2530.64" r="5.35"/>
<circle cx="1146.34" cy="2510.29" r="5.35"/>
<circle cx="1177.43" cy="2493.81" r="5.35"/>
<circle cx="1206.96" cy="2482.81" r="5.35"/>
<circle cx="1237.94" cy="2486.55" r="5.35"/>
<circle cx="1268.3" cy="2468.75" r="5.35"/>
<circle cx="1298.15" cy="2452.46" r="5.35"/>
<circle cx="1327.68" cy="2434.25" r="5.35"/>
<circle cx="1358.25" cy="2416.34" r="5.35"/>
<circle cx="1388.1" cy="2397.01" r="5.35"/>
<circle cx="1418.66" cy="2375.03" r="5.35"/>
<circle cx="1449.85" cy="2350.21" r="5.35"/>
<circle cx="1479.18" cy="2329.56" r="5.35"/>
<circle cx="1508.51" cy="2307.58" r="5.35"/>
</g>
<g fill="#000">
<polygon points="271.1,2514.1 277.2,2520.2 271.1,2526.3 265,2520.2"/>
<polygon points="299.5,2487 305.6,2493.1 299.5,2499.2 293.4,2493.1"/>
<polygon points="330.9,2472.1 337,2478.2 330.9,2484.3 324.8,2478.2"/>
<polygon points="360.6,2449.2 366.7,2455.3 360.6,2461.4 354.5,2455.3"/>
<polygon points="391.7,2412.6 397.8,2418.7 391.7,2424.8 385.6,2418.7"/>
<polygon points="421.7,2382.6 427.8,2388.7 421.7,2394.8 415.6,2388.7"/>
<polygon points="451.5,2355.3 457.6,2361.4 451.5,2367.5 445.4,2361.4"/>
<polygon points="481.5,2338 487.6,2344.1 481.5,2350.2 475.4,2344.1"/>
<polygon points="512.6,2325.6 518.7,2331.7 512.6,2337.8 506.5,2331.7"/>
<polygon points="542.6,2328.3 548.7,2334.4 542.6,2340.5 536.5,2334.4"/>
<polygon points="573.7,2339.1 579.8,2345.2 573.7,2351.3 567.6,2345.2"/>
<polygon points="603.8,2355.3 609.9,2361.4 603.8,2367.5 597.7,2361.4"/>
<polygon points="633.6,2356.7 639.7,2362.8 633.6,2368.9 627.5,2362.8"/>
<polygon points="662.2,2343.7 668.3,2349.8 662.2,2355.9 656.1,2349.8"/>
<polygon points="693.6,2346.1 699.7,2352.2 693.6,2358.3 687.5,2352.2"/>
<polygon points="724.7,2339.6 730.8,2345.7 724.7,2351.8 718.6,2345.7"/>
<polygon points="753.3,2342.1 759.4,2348.2 753.3,2354.3 747.2,2348.2"/>
<polygon points="784.4,2345 790.5,2351.1 784.4,2357.2 778.3,2351.1"/>
<polygon points="815.8,2358.6 821.9,2364.7 815.8,2370.8 809.7,2364.7"/>
<polygon points="844.6,2388.4 850.7,2394.5 844.6,2400.6 838.5,2394.5"/>
<polygon points="875.6,2407 881.7,2413.1 875.6,2419.2 869.5,2413.1"/>
<polygon points="905.3,2392.1 911.4,2398.2 905.3,2404.3 899.2,2398.2"/>
<polygon points="935.4,2386.7 941.5,2392.8 935.4,2398.9 929.3,2392.8"/>
<polygon points="965.4,2385.3 971.5,2391.4 965.4,2397.5 959.3,2391.4"/>
<polygon points="996.6,2413.7 1002.7,2419.8 996.6,2425.9 990.5,2419.8"/>
<polygon points="1026.2,2432.9 1032.3,2439 1026.2,2445.1 1020.1,2439"/>
<polygon points="1057.6,2441 1063.7,2447.1 1057.6,2453.2 1051.5,2447.1"/>
<polygon points="1087.6,2416.4 1093.7,2422.5 1087.6,2428.6 1081.5,2422.5"/>
<polygon points="1117.4,2447.5 1123.5,2453.6 1117.4,2459.7 1111.3,2453.6"/>
<polygon points="1147.1,2413.7 1153.2,2419.8 1147.1,2425.9 1141,2419.8"/>
<polygon points="1177.2,2411 1183.3,2417.1 1177.2,2423.2 1171.1,2417.1"/>
<polygon points="1208.3,2408.3 1214.4,2414.4 1208.3,2420.5 1202.2,2414.4"/>
<polygon points="1238.3,2405.5 1244.4,2411.6 1238.3,2417.7 1232.2,2411.6"/>
<polygon points="1268.1,2389.2 1274.2,2395.3 1268.1,2401.4 1262,2395.3"/>
<polygon points="1299.4,2385.3 1305.5,2391.4 1299.4,2397.5 1293.3,2391.4"/>
<polygon points="1329.2,2398.6 1335.3,2404.7 1329.2,2410.8 1323.1,2404.7"/>
<polygon points="1359.2,2379.9 1365.3,2386 1359.2,2392.1 1353.1,2386"/>
<polygon points="1389,2394 1395.1,2400.1 1389,2406.2 1382.9,2400.1"/>
<polygon points="1420.4,2372.4 1426.5,2378.5 1420.4,2384.6 1414.3,2378.5"/>
<polygon points="1450.2,2361 1456.3,2367.1 1450.2,2373.2 1444.1,2367.1"/>
<polygon points="1480.2,2343.4 1486.3,2349.5 1480.2,2355.6 1474.1,2349.5"/>
<polygon points="1509.9,2325.9 1516,2332 1509.9,2338.1 1503.8,2332"/>
</g>
<g fill="#bdbdbd" fill-opacity="0.32" stroke="#bababa" stroke-width="1.05">
<polygon points="271.1,2184.1 276.4,2189.4 271.1,2194.7 265.8,2189.4"/>
<polygon points="299.5,2182.57 304.8,2187.87 299.5,2193.17 294.2,2187.87"/>
<polygon points="330.9,2188.67 336.2,2193.97 330.9,2199.27 325.6,2193.97"/>
<polygon points="360.6,2189.71 365.9,2195.01 360.6,2200.31 355.3,2195.01"/>
<polygon points="391.7,2183.23 397,2188.53 391.7,2193.83 386.4,2188.53"/>
<polygon points="421.7,2180.17 427,2185.47 421.7,2190.77 416.4,2185.47"/>
<polygon points="451.5,2179.82 456.8,2185.12 451.5,2190.42 446.2,2185.12"/>
<polygon points="481.5,2183.18 486.8,2188.48 481.5,2193.78 476.2,2188.48"/>
<polygon points="512.6,2191.22 517.9,2196.52 512.6,2201.82 507.3,2196.52"/>
<polygon points="542.6,2207.78 547.9,2213.08 542.6,2218.38 537.3,2213.08"/>
<polygon points="573.7,2229.74 579,2235.04 573.7,2240.34 568.4,2235.04"/>
<polygon points="603.8,2254.44 609.1,2259.74 603.8,2265.04 598.5,2259.74"/>
<polygon points="633.6,2270.12 638.9,2275.42 633.6,2280.72 628.3,2275.42"/>
<polygon points="662.2,2276.56 667.5,2281.86 662.2,2287.16 656.9,2281.86"/>
<polygon points="693.6,2293.63 698.9,2298.93 693.6,2304.23 688.3,2298.93"/>
<polygon points="724.7,2305.21 730,2310.51 724.7,2315.81 719.4,2310.51"/>
<polygon points="753.3,2320.95 758.6,2326.25 753.3,2331.55 748,2326.25"/>
<polygon points="784.4,2338.17 789.7,2343.47 784.4,2348.77 779.1,2343.47"/>
<polygon points="815.8,2361.96 821.1,2367.26 815.8,2372.56 810.5,2367.26"/>
<polygon points="844.6,2394.18 849.9,2399.48 844.6,2404.78 839.3,2399.48"/>
<polygon points="875.6,2420.77 880.9,2426.07 875.6,2431.37 870.3,2426.07"/>
<polygon points="905.3,2426.62 910.6,2431.92 905.3,2437.22 900,2431.92"/>
<polygon points="935.4,2438.36 940.7,2443.66 935.4,2448.96 930.1,2443.66"/>
<polygon points="965.4,2452.46 970.7,2457.76 965.4,2463.06 960.1,2457.76"/>
<polygon points="996.6,2485.03 1001.9,2490.33 996.6,2495.63 991.3,2490.33"/>
<polygon points="1026.2,2511.28 1031.5,2516.58 1026.2,2521.88 1020.9,2516.58"/>
<polygon points="1057.6,2531.78 1062.9,2537.08 1057.6,2542.38 1052.3,2537.08"/>
<polygon points="1087.6,2531.95 1092.9,2537.25 1087.6,2542.55 1082.3,2537.25"/>
<polygon points="1117.4,2565.45 1122.7,2570.75 1117.4,2576.05 1112.1,2570.75"/>
<polygon points="1147.1,2559.95 1152.4,2565.25 1147.1,2570.55 1141.8,2565.25"/>
<polygon points="1177.2,2573.32 1182.5,2578.62 1177.2,2583.92 1171.9,2578.62"/>
<polygon points="1208.3,2587.18 1213.6,2592.48 1208.3,2597.78 1203,2592.48"/>
<polygon points="1238.3,2600.43 1243.6,2605.73 1238.3,2611.03 1233,2605.73"/>
<polygon points="1268.1,2605.49 1273.4,2610.79 1268.1,2616.09 1262.8,2610.79"/>
<polygon points="1299.4,2618.73 1304.7,2624.03 1299.4,2629.33 1294.1,2624.03"/>
<polygon points="1329.2,2641.55 1334.5,2646.85 1329.2,2652.15 1323.9,2646.85"/>
<polygon points="1359.2,2645.26 1364.5,2650.56 1359.2,2655.86 1353.9,2650.56"/>
<polygon points="1389,2668.56 1394.3,2673.86 1389,2679.16 1383.7,2673.86"/>
<polygon points="1420.4,2671.23 1425.7,2676.53 1420.4,2681.83 1415.1,2676.53"/>
<polygon points="1450.2,2679.22 1455.5,2684.52 1450.2,2689.82 1444.9,2684.52"/>
<polygon points="1480.2,2683.6 1485.5,2688.9 1480.2,2694.2 1474.9,2688.9"/>
<polygon points="1509.9,2687.88 1515.2,2693.18 1509.9,2698.48 1504.6,2693.18"/>
</g>
<g fill="#bcbcbc" fill-opacity="0.96">
<circle cx="269.69" cy="2280.41" r="5.35"/>
<circle cx="299.22" cy="2241.9" r="5.35"/>
<circle cx="330.2" cy="2210.95" r="5.35"/>
<circle cx="360.98" cy="2202.15" r="5.35"/>
<circle cx="390.61" cy="2204.5" r="5.35"/>
<circle cx="421.29" cy="2203.09" r="5.35"/>
<circle cx="450.61" cy="2202.67" r="5.35"/>
<circle cx="481.39" cy="2209.73" r="5.35"/>
<circle cx="512.37" cy="2220.01" r="5.35"/>
<circle cx="541.9" cy="2234.69" r="5.35"/>
<circle cx="572.99" cy="2254.41" r="5.35"/>
<circle cx="603.97" cy="2267.49" r="5.35"/>
<circle cx="633.3" cy="2285.91" r="5.35"/>
<circle cx="662.63" cy="2302.63" r="5.35"/>
<circle cx="693.3" cy="2331.05" r="5.35"/>
<circle cx="724.38" cy="2343.2" r="5.35"/>
<circle cx="752.27" cy="2365.12" r="5.35"/>
<circle cx="783.04" cy="2385.42" r="5.35"/>
<circle cx="814.02" cy="2413.32" r="5.35"/>
<circle cx="845" cy="2396.57" r="5.35"/>
<circle cx="874.85" cy="2441.18" r="5.35"/>
<circle cx="903.66" cy="2452.75" r="5.35"/>
<circle cx="934.33" cy="2472.15" r="5.35"/>
<circle cx="965.62" cy="2511.92" r="5.35"/>
<circle cx="996.6" cy="2547.99" r="5.35"/>
<circle cx="1025.93" cy="2565.87" r="5.35"/>
<circle cx="1056.7" cy="2581.1" r="5.35"/>
<circle cx="1086.34" cy="2599.98" r="5.35"/>
<circle cx="1117.01" cy="2616.69" r="5.35"/>
<circle cx="1146.34" cy="2619.07" r="5.35"/>
<circle cx="1177.43" cy="2624.64" r="5.35"/>
<circle cx="1206.96" cy="2632.74" r="5.35"/>
<circle cx="1237.94" cy="2650.39" r="5.35"/>
<circle cx="1268.3" cy="2654.81" r="5.35"/>
<circle cx="1298.15" cy="2659.89" r="5.35"/>
<circle cx="1327.68" cy="2663.65" r="5.35"/>
<circle cx="1358.25" cy="2668.11" r="5.35"/>
<circle cx="1388.1" cy="2671.35" r="5.35"/>
<circle cx="1418.66" cy="2673.37" r="5.35"/>
<circle cx="1449.85" cy="2673.99" r="5.35"/>
<circle cx="1479.18" cy="2676.19" r="5.35"/>
<circle cx="1508.51" cy="2677.59" r="5.35"/>
</g>
<g stroke="#000" stroke-width="1.4" fill="none">
<line x1="223.2" y1="2051.5" x2="241.7" y2="2051.5"/>
<line x1="228.3" y1="2235.52" x2="241.7" y2="2235.52"/>
<line x1="228.3" y1="2189.16" x2="241.7" y2="2189.16"/>
<line x1="228.3" y1="2156.26" x2="241.7" y2="2156.26"/>
<line x1="228.3" y1="2130.75" x2="241.7" y2="2130.75"/>
<line x1="228.3" y1="2109.91" x2="241.7" y2="2109.91"/>
<line x1="228.3" y1="2092.28" x2="241.7" y2="2092.28"/>
<line x1="228.3" y1="2077.01" x2="241.7" y2="2077.01"/>
<line x1="228.3" y1="2063.55" x2="241.7" y2="2063.55"/>
<line x1="223.2" y1="2314.77" x2="241.7" y2="2314.77"/>
<line x1="228.3" y1="2498.78" x2="241.7" y2="2498.78"/>
<line x1="228.3" y1="2452.42" x2="241.7" y2="2452.42"/>
<line x1="228.3" y1="2419.53" x2="241.7" y2="2419.53"/>
<line x1="228.3" y1="2394.02" x2="241.7" y2="2394.02"/>
<line x1="228.3" y1="2373.17" x2="241.7" y2="2373.17"/>
<line x1="228.3" y1="2355.55" x2="241.7" y2="2355.55"/>
<line x1="228.3" y1="2340.28" x2="241.7" y2="2340.28"/>
<line x1="228.3" y1="2326.81" x2="241.7" y2="2326.81"/>
<line x1="223.2" y1="2578.03" x2="241.7" y2="2578.03"/>
<line x1="228.3" y1="2762.05" x2="241.7" y2="2762.05"/>
<line x1="228.3" y1="2715.69" x2="241.7" y2="2715.69"/>
<line x1="228.3" y1="2682.8" x2="241.7" y2="2682.8"/>
<line x1="228.3" y1="2657.28" x2="241.7" y2="2657.28"/>
<line x1="228.3" y1="2636.44" x2="241.7" y2="2636.44"/>
<line x1="228.3" y1="2618.81" x2="241.7" y2="2618.81"/>
<line x1="228.3" y1="2603.55" x2="241.7" y2="2603.55"/>
<line x1="228.3" y1="2590.08" x2="241.7" y2="2590.08"/>
<line x1="223.2" y1="2841.3" x2="241.7" y2="2841.3"/>
<line x1="1510.9" y1="2051.5" x2="1529.4" y2="2051.5"/>
<line x1="1510.9" y1="2161.91" x2="1524.3" y2="2161.91"/>
<line x1="1510.9" y1="2134.09" x2="1524.3" y2="2134.09"/>
<line x1="1510.9" y1="2114.36" x2="1524.3" y2="2114.36"/>
<line x1="1510.9" y1="2099.05" x2="1524.3" y2="2099.05"/>
<line x1="1510.9" y1="2086.54" x2="1524.3" y2="2086.54"/>
<line x1="1510.9" y1="2075.97" x2="1524.3" y2="2075.97"/>
<line x1="1510.9" y1="2066.81" x2="1524.3" y2="2066.81"/>
<line x1="1510.9" y1="2058.73" x2="1524.3" y2="2058.73"/>
<line x1="1510.9" y1="2209.46" x2="1529.4" y2="2209.46"/>
<line x1="1510.9" y1="2319.87" x2="1524.3" y2="2319.87"/>
<line x1="1510.9" y1="2292.05" x2="1524.3" y2="2292.05"/>
<line x1="1510.9" y1="2272.32" x2="1524.3" y2="2272.32"/>
<line x1="1510.9" y1="2257.01" x2="1524.3" y2="2257.01"/>
<line x1="1510.9" y1="2244.5" x2="1524.3" y2="2244.5"/>
<line x1="1510.9" y1="2233.93" x2="1524.3" y2="2233.93"/>
<line x1="1510.9" y1="2224.77" x2="1524.3" y2="2224.77"/>
<line x1="1510.9" y1="2216.69" x2="1524.3" y2="2216.69"/>
<line x1="1510.9" y1="2367.42" x2="1529.4" y2="2367.42"/>
<line x1="1510.9" y1="2477.83" x2="1524.3" y2="2477.83"/>
<line x1="1510.9" y1="2450.01" x2="1524.3" y2="2450.01"/>
<line x1="1510.9" y1="2430.28" x2="1524.3" y2="2430.28"/>
<line x1="1510.9" y1="2414.97" x2="1524.3" y2="2414.97"/>
<line x1="1510.9" y1="2402.46" x2="1524.3" y2="2402.46"/>
<line x1="1510.9" y1="2391.89" x2="1524.3" y2="2391.89"/>
<line x1="1510.9" y1="2382.73" x2="1524.3" y2="2382.73"/>
<line x1="1510.9" y1="2374.65" x2="1524.3" y2="2374.65"/>
<line x1="1510.9" y1="2525.38" x2="1529.4" y2="2525.38"/>
<line x1="1510.9" y1="2635.79" x2="1524.3" y2="2635.79"/>
<line x1="1510.9" y1="2607.97" x2="1524.3" y2="2607.97"/>
<line x1="1510.9" y1="2588.24" x2="1524.3" y2="2588.24"/>
<line x1="1510.9" y1="2572.93" x2="1524.3" y2="2572.93"/>
<line x1="1510.9" y1="2560.42" x2="1524.3" y2="2560.42"/>
<line x1="1510.9" y1="2549.85" x2="1524.3" y2="2549.85"/>
<line x1="1510.9" y1="2540.69" x2="1524.3" y2="2540.69"/>
<line x1="1510.9" y1="2532.61" x2="1524.3" y2="2532.61"/>
<line x1="1510.9" y1="2683.34" x2="1529.4" y2="2683.34"/>
<line x1="1510.9" y1="2793.75" x2="1524.3" y2="2793.75"/>
<line x1="1510.9" y1="2765.93" x2="1524.3" y2="2765.93"/>
<line x1="1510.9" y1="2746.2" x2="1524.3" y2="2746.2"/>
<line x1="1510.9" y1="2730.89" x2="1524.3" y2="2730.89"/>
<line x1="1510.9" y1="2718.38" x2="1524.3" y2="2718.38"/>
<line x1="1510.9" y1="2707.81" x2="1524.3" y2="2707.81"/>
<line x1="1510.9" y1="2698.65" x2="1524.3" y2="2698.65"/>
<line x1="1510.9" y1="2690.57" x2="1524.3" y2="2690.57"/>
<line x1="1510.9" y1="2841.3" x2="1529.4" y2="2841.3"/>
<line x1="241.4" y1="2841.3" x2="241.4" y2="2859.8"/>
<line x1="336.92" y1="2841.3" x2="336.92" y2="2854.7"/>
<line x1="392.79" y1="2841.3" x2="392.79" y2="2854.7"/>
<line x1="432.43" y1="2841.3" x2="432.43" y2="2854.7"/>
<line x1="463.18" y1="2841.3" x2="463.18" y2="2854.7"/>
<line x1="488.31" y1="2841.3" x2="488.31" y2="2854.7"/>
<line x1="509.55" y1="2841.3" x2="509.55" y2="2854.7"/>
<line x1="527.95" y1="2841.3" x2="527.95" y2="2854.7"/>
<line x1="544.18" y1="2841.3" x2="544.18" y2="2854.7"/>
<line x1="558.7" y1="2841.3" x2="558.7" y2="2859.8"/>
<line x1="654.22" y1="2841.3" x2="654.22" y2="2854.7"/>
<line x1="710.09" y1="2841.3" x2="710.09" y2="2854.7"/>
<line x1="749.73" y1="2841.3" x2="749.73" y2="2854.7"/>
<line x1="780.48" y1="2841.3" x2="780.48" y2="2854.7"/>
<line x1="805.61" y1="2841.3" x2="805.61" y2="2854.7"/>
<line x1="826.85" y1="2841.3" x2="826.85" y2="2854.7"/>
<line x1="845.25" y1="2841.3" x2="845.25" y2="2854.7"/>
<line x1="861.48" y1="2841.3" x2="861.48" y2="2854.7"/>
<line x1="876" y1="2841.3" x2="876" y2="2859.8"/>
<line x1="971.52" y1="2841.3" x2="971.52" y2="2854.7"/>
<line x1="1027.39" y1="2841.3" x2="1027.39" y2="2854.7"/>
<line x1="1067.03" y1="2841.3" x2="1067.03" y2="2854.7"/>
<line x1="1097.78" y1="2841.3" x2="1097.78" y2="2854.7"/>
<line x1="1122.91" y1="2841.3" x2="1122.91" y2="2854.7"/>
<line x1="1144.15" y1="2841.3" x2="1144.15" y2="2854.7"/>
<line x1="1162.55" y1="2841.3" x2="1162.55" y2="2854.7"/>
<line x1="1178.78" y1="2841.3" x2="1178.78" y2="2854.7"/>
<line x1="1193.3" y1="2841.3" x2="1193.3" y2="2859.8"/>
<line x1="1288.82" y1="2841.3" x2="1288.82" y2="2854.7"/>
<line x1="1344.69" y1="2841.3" x2="1344.69" y2="2854.7"/>
<line x1="1384.33" y1="2841.3" x2="1384.33" y2="2854.7"/>
<line x1="1415.08" y1="2841.3" x2="1415.08" y2="2854.7"/>
<line x1="1440.21" y1="2841.3" x2="1440.21" y2="2854.7"/>
<line x1="1461.45" y1="2841.3" x2="1461.45" y2="2854.7"/>
<line x1="1479.85" y1="2841.3" x2="1479.85" y2="2854.7"/>
<line x1="1496.08" y1="2841.3" x2="1496.08" y2="2854.7"/>
<line x1="1510.6" y1="2841.3" x2="1510.6" y2="2859.8"/>
</g>
<rect x="242" y="2051.5" width="1269.2" height="789.8" fill="none" stroke="#000" stroke-width="2.7"/>
<text x="192" y="2069.8" text-anchor="end">10,000</text>
<text x="192" y="2333.07" text-anchor="end">1,000</text>
<text x="192" y="2596.33" text-anchor="end">100</text>
<text x="192" y="2859.6" text-anchor="end">10</text>
<text x="1563" y="2068.9">100,000</text>
<text x="1563" y="2226.86">10,000</text>
<text x="1563" y="2384.82">1,000</text>
<text x="1563" y="2542.78">100</text>
<text x="1563" y="2700.74">10</text>
<text x="1563" y="2858.7">1</text>
<text x="243.2" y="2927.8" text-anchor="middle">0.01</text>
<text x="560.5" y="2927.8" text-anchor="middle">0.10</text>
<text x="877.8" y="2927.8" text-anchor="middle">1.00</text>
<text x="1195.1" y="2927.8" text-anchor="middle">10.00</text>
<text x="1512.4" y="2927.8" text-anchor="middle">100.00</text>
<text x="876.4" y="2980.7" text-anchor="middle" font-size="58">Shear rate [1/s]</text>
<text x="75.4" y="2534.5" text-anchor="middle" font-size="58" transform="rotate(-90 75.4 2534.5)">Shear stress [Pa]</text>
<text x="1731.7" y="2588.4" text-anchor="middle" font-size="58" transform="rotate(-90 1731.7 2588.4)">Viscosity [Pa.s]</text>
<polygon fill="#000" points="1074.75,2505.5 1100.45,2505.5 1100.45,2467.7 1112.6,2467.7 1087.6,2442.8 1062.6,2467.7 1074.75,2467.7"/>
<polygon fill="#bcbcbc" points="1133.55,2633.6 1159.05,2633.6 1159.05,2595.2 1171.05,2595.2 1146.3,2570.9 1121.55,2595.2 1133.55,2595.2"/>
<text x="1016.4" y="2379" font-size="57.5">Increase</text>
<text x="1052.1" y="2694.2" fill="#8c8c8c" font-size="57.5">Increase</text>
<text x="590" y="2130.6" font-size="64" font-weight="bold">(c)</text>
<g fill="#000"><circle cx="811.9" cy="2094.1" r="5.35"/></g>
<text x="841.5" y="2112.7" font-size="57.6">80K20MK</text>
<g fill="#000"><polygon points="1179.6,2088 1185.7,2094.1 1179.6,2100.2 1173.5,2094.1"/></g>
<text x="1209.9" y="2112.7" font-size="57.6">80K20MKp</text>
<g fill="#bcbcbc"><circle cx="811.9" cy="2165.1" r="5.35"/></g>
<text x="841.5" y="2183.7" font-size="57.6">80K20MK</text>
<g fill="#bdbdbd" fill-opacity="0.32" stroke="#bababa" stroke-width="1.05"><polygon points="1179.6,2159.8 1184.9,2165.1 1179.6,2170.4 1174.3,2165.1"/></g>
<text x="1209.9" y="2183.7" font-size="57.6">80K20MKp</text>
</g>
</svg>
</body></html>
